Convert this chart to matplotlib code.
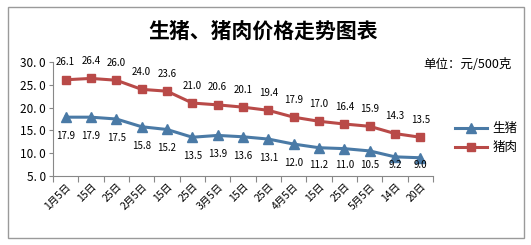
import matplotlib
matplotlib.use("Agg")
import matplotlib.pyplot as plt
from matplotlib.patches import Rectangle

plt.rcParams['font.family'] = ['Noto Sans CJK SC', 'DejaVu Sans']

dates = ['1月5日', '15日', '25日', '2月5日', '15日', '25日', '3月5日', '15日', '25日',
         '4月5日', '15日', '25日', '5月5日', '14日', '20日']
pig = [17.9, 17.9, 17.5, 15.8, 15.2, 13.5, 13.9, 13.6, 13.1, 12.0, 11.2, 11.0, 10.5, 9.2, 9.0]
pork = [26.1, 26.4, 26.0, 24.0, 23.6, 21.0, 20.6, 20.1, 19.4, 17.9, 17.0, 16.4, 15.9, 14.3, 13.5]
yticks = [5, 10, 15, 20, 25, 30]

blue = '#4a7aa6'
red = '#b94a48'

fig = plt.figure(figsize=(5.31, 2.45), dpi=100)
fig.patches.append(Rectangle((8 / 531, 1 - 238 / 245), 516 / 531, 231 / 245,
                             transform=fig.transFigure, fill=False,
                             edgecolor='#9a9a9a', linewidth=1.0))

ax_h = 114  # axes height in px
ax = fig.add_axes([53 / 531, 1 - 176 / 245, 380 / 531, ax_h / 245])
x = list(range(len(dates)))
ax.plot(x, pig, color=blue, linewidth=2.2, marker='^', markersize=7, label='生猪')
ax.plot(x, pork, color=red, linewidth=2.2, marker='s', markersize=6, label='猪肉')

ymin, ymax = 5, 30
px_per_unit = ax_h / (ymax - ymin)
for i in x:
    ax.annotate(f'{pork[i]:.1f}', (i, pork[i]), xytext=(0, 9), textcoords='offset points',
                ha='center', va='bottom', fontsize=7)
    # labels below the blue line are kept clear of the x axis, like Excel does
    gap = min(19, (pig[i] - ymin) * px_per_unit - 11)
    ax.annotate(f'{pig[i]:.1f}', (i, pig[i]), xytext=(0, -gap * 0.72),
                textcoords='offset points', ha='center', va='center', fontsize=7)

ax.set_xlim(-0.5, len(dates) - 0.5)
ax.set_ylim(ymin, ymax)
ax.set_yticks(yticks)
ax.set_yticklabels([f'{v}. 0' for v in yticks], fontsize=8.5)
ax.set_xticks([i - 0.5 for i in range(len(dates) + 1)])
ax.set_xticklabels([])
ax.set_xticks(x, minor=True)
ax.set_xticklabels(dates, minor=True, rotation=45, ha='right', va='top', fontsize=7.5,
                   rotation_mode='anchor')
ax.tick_params(axis='x', which='minor', length=0, pad=4)
ax.tick_params(axis='x', which='major', length=4, direction='out', color='#888888')
ax.tick_params(axis='y', length=3, color='#888888', pad=2)
for s in ['top', 'right']:
    ax.spines[s].set_visible(False)
ax.spines['left'].set_color('#888888')
ax.spines['bottom'].set_color('#888888')

fig.text(263 / 531, 1 - 31 / 245, '生猪、猪肉价格走势图表', ha='center', va='center',
         fontsize=15, fontweight='bold')
fig.text(512 / 531, 1 - 64 / 245, '单位：元/500克', ha='right', va='center', fontsize=9)

fig.legend(loc='center left', bbox_to_anchor=(444 / 531, 1 - 138 / 245), frameon=False,
           fontsize=9, handlelength=2.5, handletextpad=0.5, labelspacing=0.5)

fig.savefig('out.png', dpi=100)
